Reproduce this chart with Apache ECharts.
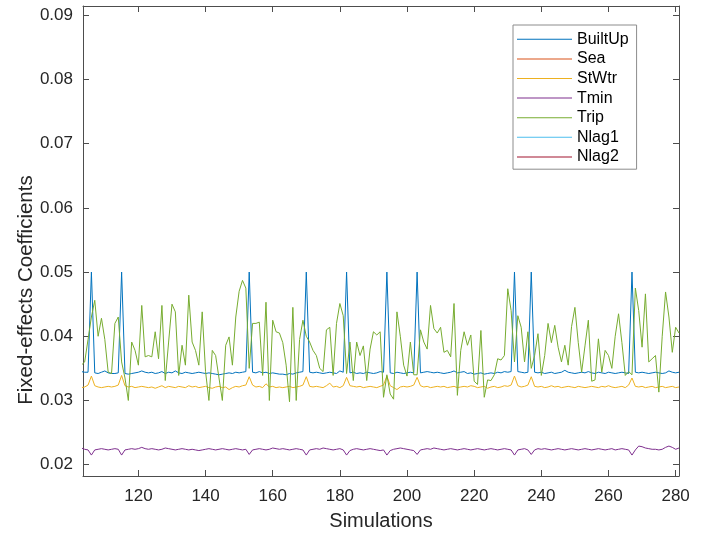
<!DOCTYPE html>
<html>
<head>
<meta charset="utf-8">
<script src="https://cdn.jsdelivr.net/npm/echarts@6/dist/echarts.min.js"></script>
<style>
html,body{margin:0;padding:0;background:#fff;}
#chart{width:710px;height:533px;}
</style>
</head>
<body>
<div id="chart"></div>
<script>
const simulations = [
103,104,105,106,107,108,109,110,111,112,
113,114,115,116,117,118,119,120,121,122,
123,124,125,126,127,128,129,130,131,132,
133,134,135,136,137,138,139,140,141,142,
143,144,145,146,147,148,149,150,151,152,
153,154,155,156,157,158,159,160,161,162,
163,164,165,166,167,168,169,170,171,172,
173,174,175,176,177,178,179,180,181,182,
183,184,185,186,187,188,189,190,191,192,
193,194,195,196,197,198,199,200,201,202,
203,204,205,206,207,208,209,210,211,212,
213,214,215,216,217,218,219,220,221,222,
223,224,225,226,227,228,229,230,231,232,
233,234,235,236,237,238,239,240,241,242,
243,244,245,246,247,248,249,250,251,252,
253,254,255,256,257,258,259,260,261,262,
263,264,265,266,267,268,269,270,271,272,
273,274,275,276,277,278,279,280,281
];

const builtUp = [
0.0345,0.0344,0.0344,0.0500,0.0343,0.0342,0.0344,0.0346,0.0343,0.0342,
0.0342,0.0343,0.0500,0.0342,0.0341,0.0342,0.0343,0.0344,0.0346,0.0344,
0.0343,0.0344,0.0342,0.0343,0.0345,0.0342,0.0344,0.0343,0.0346,0.0343,
0.0342,0.0344,0.0343,0.0342,0.0343,0.0344,0.0343,0.0342,0.0343,0.0342,
0.0341,0.0340,0.0341,0.0342,0.0343,0.0342,0.0344,0.0343,0.0344,0.0345,
0.0500,0.0344,0.0343,0.0345,0.0343,0.0344,0.0342,0.0343,0.0342,0.0341,
0.0341,0.0340,0.0342,0.0341,0.0343,0.0344,0.0345,0.0500,0.0344,0.0343,
0.0344,0.0343,0.0342,0.0343,0.0344,0.0343,0.0342,0.0346,0.0344,0.0500,
0.0343,0.0344,0.0342,0.0343,0.0342,0.0344,0.0343,0.0342,0.0343,0.0345,
0.0344,0.0500,0.0343,0.0342,0.0344,0.0343,0.0342,0.0343,0.0344,0.0343,
0.0500,0.0343,0.0344,0.0345,0.0344,0.0343,0.0344,0.0343,0.0342,0.0343,
0.0344,0.0346,0.0343,0.0344,0.0345,0.0342,0.0343,0.0341,0.0342,0.0343,
0.0341,0.0342,0.0343,0.0342,0.0344,0.0343,0.0345,0.0344,0.0345,0.0500,
0.0345,0.0344,0.0343,0.0344,0.0500,0.0344,0.0343,0.0344,0.0342,0.0343,
0.0344,0.0342,0.0343,0.0344,0.0347,0.0344,0.0343,0.0342,0.0343,0.0344,
0.0343,0.0345,0.0343,0.0342,0.0344,0.0343,0.0342,0.0344,0.0343,0.0342,
0.0343,0.0344,0.0343,0.0342,0.0500,0.0344,0.0343,0.0344,0.0343,0.0342,
0.0343,0.0344,0.0343,0.0342,0.0343,0.0346,0.0344,0.0343,0.0344
];

const sea = [];

const stWtr = [
0.0320,0.0321,0.0324,0.0338,0.0323,0.0321,0.0320,0.0321,0.0322,0.0321,
0.0322,0.0324,0.0339,0.0323,0.0321,0.0322,0.0320,0.0321,0.0322,0.0321,
0.0320,0.0321,0.0319,0.0321,0.0323,0.0320,0.0322,0.0321,0.0320,0.0322,
0.0321,0.0320,0.0323,0.0321,0.0322,0.0320,0.0321,0.0322,0.0320,0.0319,
0.0321,0.0322,0.0320,0.0321,0.0317,0.0320,0.0322,0.0321,0.0323,0.0324,
0.0337,0.0324,0.0321,0.0322,0.0320,0.0326,0.0321,0.0322,0.0320,0.0321,
0.0320,0.0321,0.0322,0.0320,0.0321,0.0322,0.0324,0.0337,0.0322,0.0321,
0.0322,0.0321,0.0320,0.0323,0.0327,0.0321,0.0322,0.0320,0.0323,0.0336,
0.0323,0.0322,0.0321,0.0322,0.0320,0.0321,0.0322,0.0321,0.0320,0.0322,
0.0324,0.0338,0.0323,0.0320,0.0317,0.0321,0.0322,0.0321,0.0322,0.0324,
0.0336,0.0323,0.0321,0.0322,0.0320,0.0321,0.0322,0.0321,0.0322,0.0320,
0.0321,0.0322,0.0320,0.0321,0.0322,0.0321,0.0323,0.0322,0.0320,0.0321,
0.0322,0.0319,0.0321,0.0322,0.0320,0.0321,0.0323,0.0322,0.0324,0.0338,
0.0323,0.0321,0.0322,0.0324,0.0337,0.0322,0.0321,0.0322,0.0320,0.0321,
0.0323,0.0321,0.0322,0.0320,0.0321,0.0322,0.0321,0.0320,0.0322,0.0321,
0.0320,0.0321,0.0322,0.0321,0.0320,0.0322,0.0321,0.0323,0.0321,0.0320,
0.0321,0.0322,0.0320,0.0324,0.0335,0.0322,0.0321,0.0322,0.0320,0.0321,
0.0322,0.0320,0.0321,0.0322,0.0320,0.0321,0.0322,0.0320,0.0321
];

const tmin = [
0.0226,0.0224,0.0223,0.0215,0.0223,0.0224,0.0225,0.0224,0.0223,0.0224,
0.0225,0.0224,0.0215,0.0223,0.0224,0.0225,0.0224,0.0225,0.0227,0.0225,
0.0224,0.0225,0.0224,0.0223,0.0224,0.0226,0.0225,0.0224,0.0223,0.0224,
0.0225,0.0224,0.0223,0.0224,0.0223,0.0222,0.0223,0.0224,0.0225,0.0224,
0.0223,0.0224,0.0225,0.0224,0.0223,0.0224,0.0225,0.0224,0.0223,0.0224,
0.0216,0.0223,0.0224,0.0225,0.0224,0.0223,0.0224,0.0226,0.0225,0.0224,
0.0225,0.0224,0.0223,0.0224,0.0225,0.0224,0.0223,0.0215,0.0223,0.0224,
0.0225,0.0224,0.0226,0.0225,0.0224,0.0223,0.0224,0.0225,0.0223,0.0215,
0.0222,0.0224,0.0225,0.0224,0.0223,0.0224,0.0225,0.0224,0.0223,0.0222,
0.0223,0.0215,0.0222,0.0224,0.0225,0.0226,0.0225,0.0224,0.0223,0.0222,
0.0216,0.0223,0.0224,0.0225,0.0224,0.0226,0.0225,0.0224,0.0223,0.0224,
0.0225,0.0224,0.0223,0.0224,0.0225,0.0224,0.0223,0.0224,0.0225,0.0224,
0.0223,0.0224,0.0225,0.0224,0.0223,0.0224,0.0225,0.0224,0.0223,0.0215,
0.0223,0.0224,0.0225,0.0223,0.0216,0.0223,0.0225,0.0224,0.0225,0.0224,
0.0223,0.0224,0.0225,0.0224,0.0223,0.0224,0.0225,0.0224,0.0223,0.0224,
0.0225,0.0224,0.0223,0.0224,0.0225,0.0224,0.0223,0.0224,0.0225,0.0223,
0.0224,0.0225,0.0224,0.0223,0.0215,0.0223,0.0229,0.0228,0.0226,0.0225,
0.0224,0.0224,0.0223,0.0224,0.0227,0.0229,0.0227,0.0224,0.0226
];

const trip = [
0.0355,0.0360,0.0395,0.0430,0.0456,0.0400,0.0428,0.0395,0.0344,0.0342,
0.0420,0.0430,0.0360,0.0335,0.0300,0.0391,0.0378,0.0355,0.0448,0.0368,
0.0370,0.0368,0.0407,0.0365,0.0448,0.0331,0.0391,0.0450,0.0438,0.0339,
0.0386,0.0355,0.0464,0.0391,0.0378,0.0355,0.0438,0.0345,0.0300,0.0378,
0.0370,0.0335,0.0300,0.0386,0.0399,0.0355,0.0430,0.0470,0.0487,0.0475,
0.0350,0.0420,0.0420,0.0422,0.0339,0.0453,0.0300,0.0425,0.0407,0.0405,
0.0390,0.0355,0.0298,0.0445,0.0300,0.0395,0.0425,0.0400,0.0391,0.0378,
0.0370,0.0350,0.0345,0.0410,0.0414,0.0339,0.0420,0.0451,0.0432,0.0342,
0.0391,0.0331,0.0391,0.0370,0.0385,0.0331,0.0380,0.0407,0.0402,0.0407,
0.0305,0.0340,0.0310,0.0302,0.0438,0.0400,0.0355,0.0338,0.0391,0.0340,
0.0340,0.0410,0.0391,0.0380,0.0448,0.0412,0.0405,0.0414,0.0375,0.0378,
0.0368,0.0451,0.0308,0.0378,0.0407,0.0386,0.0402,0.0330,0.0325,0.0409,
0.0305,0.0332,0.0331,0.0340,0.0365,0.0363,0.0370,0.0474,0.0440,0.0360,
0.0432,0.0414,0.0360,0.0407,0.0350,0.0370,0.0404,0.0339,0.0370,0.0420,
0.0390,0.0417,0.0383,0.0360,0.0386,0.0355,0.0415,0.0445,0.0390,0.0344,
0.0385,0.0425,0.0330,0.0332,0.0396,0.0344,0.0378,0.0370,0.0350,0.0400,
0.0435,0.0390,0.0339,0.0345,0.0340,0.0475,0.0440,0.0383,0.0466,0.0360,
0.0365,0.0370,0.0313,0.0400,0.0469,0.0430,0.0375,0.0414,0.0405
];

const nlag1 = [];
const nlag2 = [];

const seriesNames = ['BuiltUp', 'Sea', 'StWtr', 'Tmin', 'Trip', 'Nlag1', 'Nlag2'];
const seriesValues = [builtUp, sea, stWtr, tmin, trip, nlag1, nlag2];
const seriesColors = ['#0072BD', '#D95319', '#EDB120', '#7E2F8E', '#77AC30', '#4DBEEE', '#A2142F'];

const xTicks = [120, 140, 160, 180, 200, 220, 240, 260, 280];
const yTicks = [0.02, 0.03, 0.04, 0.05, 0.06, 0.07, 0.08, 0.09];

const xTitle = 'Simulations';
const yTitle = 'Fixed-effects Coefficients';

const X_MIN = 103.5, X_MAX = 281;
const Y_MIN = 0.01824, Y_MAX = 0.09143;

const FONT = 'Liberation Sans, Arial, sans-serif';
const AXIS_COLOR = '#4d4d4d';
const TEXT_COLOR = '#262626';

const chart = echarts.init(document.getElementById('chart'), null, {renderer: 'canvas'});

function pairs(vals) {
  return vals.map((v, i) => [simulations[i], v]);
}

const baseX = {
  type: 'value', min: X_MIN, max: X_MAX,
  splitLine: {show: false},
  axisLine: {show: true, lineStyle: {color: AXIS_COLOR, width: 1}},
  axisTick: {show: true, inside: true, length: 6, customValues: xTicks, lineStyle: {color: AXIS_COLOR}},
};
const baseY = {
  type: 'value', min: Y_MIN, max: Y_MAX,
  splitLine: {show: false},
  axisLine: {show: true, lineStyle: {color: AXIS_COLOR, width: 1}},
  axisTick: {show: true, inside: true, length: 6, customValues: yTicks, lineStyle: {color: AXIS_COLOR}},
};

const option = {
  animation: false,
  backgroundColor: '#fff',
  grid: {left: 83, right: 31, top: 6, bottom: 57, containLabel: false, outerBoundsMode: 'none'},
  graphic: [{
    type: 'text',
    x: 26, y: 290,
    rotation: Math.PI / 2,
    style: {text: yTitle, fontFamily: FONT, fontSize: 20.5, fill: TEXT_COLOR, align: 'center', verticalAlign: 'middle'}
  }],
  xAxis: [
    Object.assign({}, baseX, {
      position: 'bottom',
      name: xTitle, nameLocation: 'middle', nameGap: 35,
      nameTextStyle: {fontFamily: FONT, fontSize: 20, color: TEXT_COLOR},
      axisLabel: {show: true, customValues: xTicks, margin: 12, fontFamily: FONT, fontSize: 17, color: TEXT_COLOR,
        formatter: v => String(v)}
    }),
    Object.assign({}, baseX, {position: 'top', axisLabel: {show: false}})
  ],
  yAxis: [
    Object.assign({}, baseY, {
      position: 'left',
      axisLabel: {show: true, customValues: yTicks, margin: 10, fontFamily: FONT, fontSize: 17, color: TEXT_COLOR,
        formatter: v => v.toFixed(2)}
    }),
    Object.assign({}, baseY, {position: 'right', axisLabel: {show: false}})
  ],
  legend: {
    data: seriesNames,
    orient: 'vertical',
    left: 513, top: 25,
    padding: [4.5, 8, 2.5, 4],
    itemGap: 0,
    itemWidth: 55, itemHeight: 1,
    icon: 'rect',
    backgroundColor: '#fff',
    borderColor: '#8c8c8c', borderWidth: 1,
    textStyle: {fontFamily: FONT, fontSize: 16, color: '#000', lineHeight: 19.6},
    selectedMode: false
  },
  series: seriesNames.map((name, i) => ({
    name: name,
    type: 'line',
    xAxisIndex: 0, yAxisIndex: 0,
    data: pairs(seriesValues[i]),
    showSymbol: false, symbol: 'none',
    color: seriesColors[i],
    lineStyle: {width: 1, color: seriesColors[i]},
    clip: true,
    emphasis: {disabled: true}
  }))
};

chart.setOption(option);
</script>
</body>
</html>
